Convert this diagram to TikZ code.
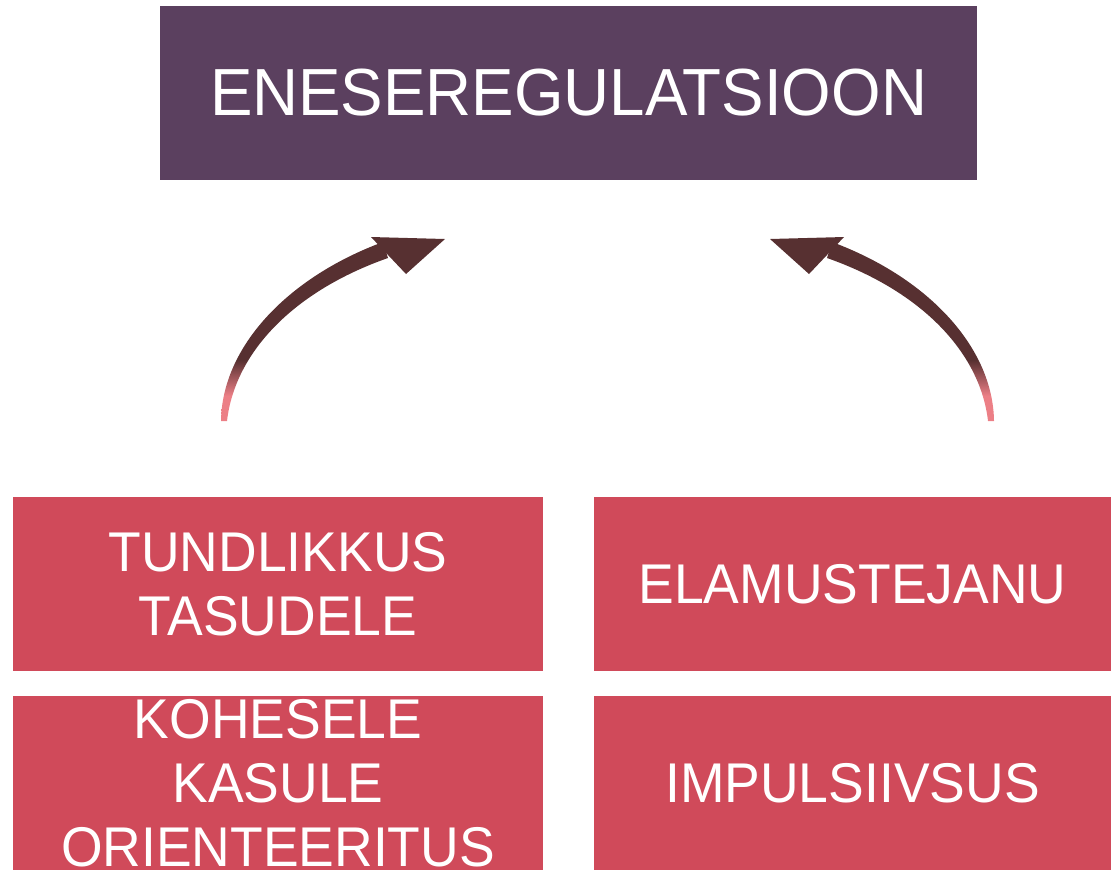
\documentclass[tikz,border=0pt]{standalone}
\usepackage{fontspec}
\setmainfont{Liberation Sans}
\newfontfamily\headfont[FakeStretch=0.955]{Liberation Sans}
\newfontfamily\boxfont[FakeStretch=0.955]{Liberation Sans}
\usetikzlibrary{calc}

\definecolor{headpurple}{HTML}{5B405F}
\definecolor{boxred}{HTML}{D04A5A}
\definecolor{arrowbrown}{HTML}{573031}
\definecolor{arrowpink}{HTML}{EC7F86}
\pgfdeclareverticalshading{arrowfade}{100bp}{color(0bp)=(arrowpink); color(32bp)=(arrowpink); color(42bp)=(arrowbrown); color(100bp)=(arrowbrown)}

% bent arrow: foot, end of shaft, tip
\newcommand\liftarrow[3]{%
  \shade[shading=arrowfade] ($(#1)+(-3,0)$) .. controls +(1,-73) and +(-97,36) .. ($(#2)+(-2,-8)$)
    -- ($(#2)+(3,8)$) .. controls +(-94,33) and +(8,-69) .. ($(#1)+(3,0)$) -- cycle;
  \fill[arrowbrown] (#3) -- ++(-74,-2) -- ++(35,37) -- cycle;
}

\begin{document}
\begin{tikzpicture}[x=0.75pt, y=-0.75pt]
    \tikzset{headbox/.style = {fill=headpurple, text=white, inner sep=0pt,
        minimum width=612.75pt, minimum height=130.5pt,
        font=\headfont\fontsize{50}{56}\selectfont}}
    \tikzset{tracebox/.style = {fill=boxred, text=white, align=center, inner sep=0pt,
        minimum height=130.5pt, font=\boxfont\fontsize{42}{48}\selectfont}}
    \useasboundingbox (0,0) rectangle (1112,869);
    \node[headbox] (enese) at (568.5,93) {ENESEREGULATSIOON};
    \node[tracebox, minimum width=397.5pt] (tundlik) at (278,584) {TUNDLIKKUS\\TASUDELE};
    \node[tracebox, minimum width=387.75pt] (elamus) at (852.5,584) {ELAMUSTEJANU};
    \node[tracebox, minimum width=397.5pt] (kohene) at (278,783) {KOHESELE\\KASULE\\ORIENTEERITUS};
    \node[tracebox, minimum width=387.75pt] (impulss) at (852.5,783) {IMPULSIIVSUS};
    \coordinate (lfoot) at (224,421);
    \coordinate (lend) at (385,250);
    \coordinate (ltip) at (445,239);
    \coordinate (rfoot) at (991,421);
    \coordinate (rend) at (830,250);
    \coordinate (rtip) at (770,239);
    \liftarrow{lfoot}{lend}{ltip}
    \begin{scope}[xscale=-1]
      \liftarrow{rfoot}{rend}{rtip}
    \end{scope}
\end{tikzpicture}
\end{document}
